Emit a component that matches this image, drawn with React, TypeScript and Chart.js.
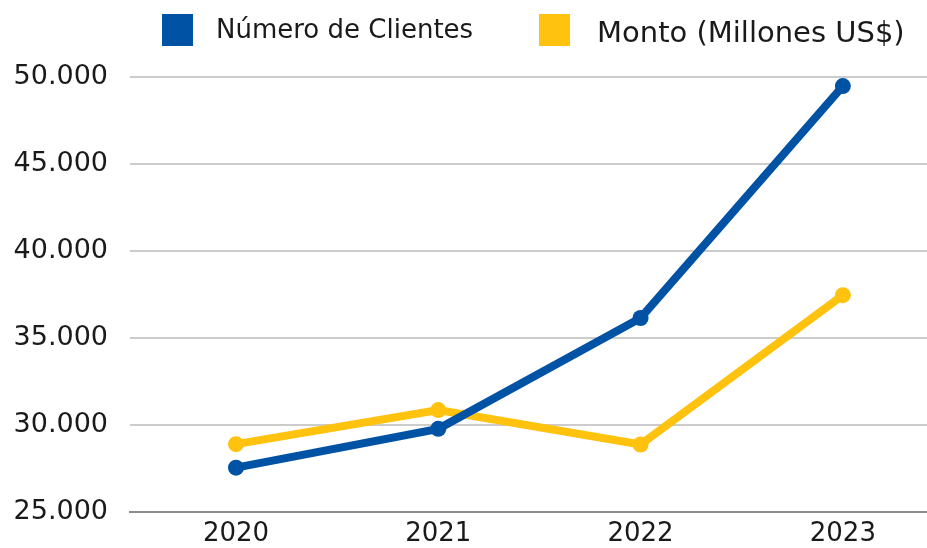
import React, { useEffect, useRef } from "react";
import { Chart, registerables } from "chart.js";

Chart.register(...registerables);

const years = ["2020", "2021", "2022", "2023"];
const clientes = [27550, 29780, 36150, 49480];
const monto = [28900, 30860, 28880, 37460];
const yTicks = [25000, 30000, 35000, 40000, 45000, 50000];
const seriesNames = ["Número de Clientes", "Monto (Millones US$)"];

const BLUE = "#0052a5";
const YELLOW = "#ffc20e";
const FONT = "'DejaVu Sans'";

const fmt = (v: number) => v.toLocaleString("de-DE");

const legendPlugin = {
  id: "customLegend",
  afterDraw(chart: any) {
    const ctx = chart.ctx;
    ctx.save();
    const items = [
      { color: BLUE, text: seriesNames[0], bx: 162, by: 14, tx: 216, ty: 38, size: 26 },
      { color: YELLOW, text: seriesNames[1], bx: 539, by: 14, tx: 597, ty: 42, size: 29 },
    ];
    for (const it of items) {
      ctx.fillStyle = it.color;
      ctx.fillRect(it.bx, it.by, 31, 32);
      ctx.fillStyle = "#1a1a1a";
      ctx.font = `${it.size}px ${FONT}`;
      ctx.textBaseline = "alphabetic";
      ctx.textAlign = "left";
      ctx.fillText(it.text, it.tx, it.ty);
    }
    ctx.restore();
  },
};

export default function App() {
  const ref = useRef<HTMLCanvasElement | null>(null);
  useEffect(() => {
    document.body.style.margin = "0";
    const mk = (vals: number[]) => years.map((y, i) => ({ x: Number(y), y: vals[i] }));
    const ds = (label: string, vals: number[], color: string) => ({
      label,
      data: mk(vals),
      borderColor: color,
      backgroundColor: color,
      borderWidth: 8,
      pointRadius: 8,
      pointBorderWidth: 0,
      tension: 0,
    });
    const chart = new Chart(ref.current!, {
      type: "line",
      data: {
        datasets: [ds(seriesNames[0], clientes, BLUE), ds(seriesNames[1], monto, YELLOW)],
      },
      options: {
        animation: false,
        responsive: false,
        maintainAspectRatio: false,
        layout: { autoPadding: false, padding: { top: 77, right: 0, left: 0, bottom: 0 } },
        plugins: { legend: { display: false }, tooltip: { enabled: false } },
        scales: {
          x: {
            type: "linear",
            min: 2019.476,
            max: 2023.416,
            afterBuildTicks: (scale: any) => {
              scale.ticks = years.map((y) => ({ value: Number(y) }));
            },
            afterFit: (scale: any) => {
              scale.height = 36;
              scale.paddingLeft = 0;
              scale.paddingRight = 0;
            },
            grid: { display: false, drawTicks: false },
            border: { display: true, color: "#8c8c8c", width: 2 },
            ticks: {
              padding: 9,
              color: "#1a1a1a",
              font: { family: FONT, size: 26, lineHeight: 1.0 },
              callback: (v: any) => String(v),
            },
          },
          y: {
            min: 25000,
            max: 50000,
            afterBuildTicks: (scale: any) => {
              scale.ticks = yTicks.map((v) => ({ value: v }));
            },
            afterFit: (scale: any) => {
              scale.width = 130;
              scale.paddingTop = 0;
              scale.paddingBottom = 0;
            },
            grid: { color: "#cccccc", lineWidth: 2, drawTicks: false },
            border: { display: false },
            ticks: {
              padding: 22,
              color: "#1a1a1a",
              font: { family: FONT, size: 27 },
              callback: (v: any) => fmt(Number(v)),
            },
          },
        },
      },
      plugins: [legendPlugin],
    } as any);
    // adjust the chart area so the axis baseline sits where the reference puts it
    const area = chart.chartArea;
    if (area && Math.round(area.bottom) !== 512) {
      const diff = 512 - area.bottom;
      (chart.options.layout as any).padding.bottom = -diff;
      chart.update();
    }
    return () => chart.destroy();
  }, []);
  return (
    <div style={{ position: "absolute", left: 0, top: 0, width: 927, height: 548 }}>
      <canvas ref={ref} width={927} height={548} style={{ width: 927, height: 548 }} />
    </div>
  );
}
